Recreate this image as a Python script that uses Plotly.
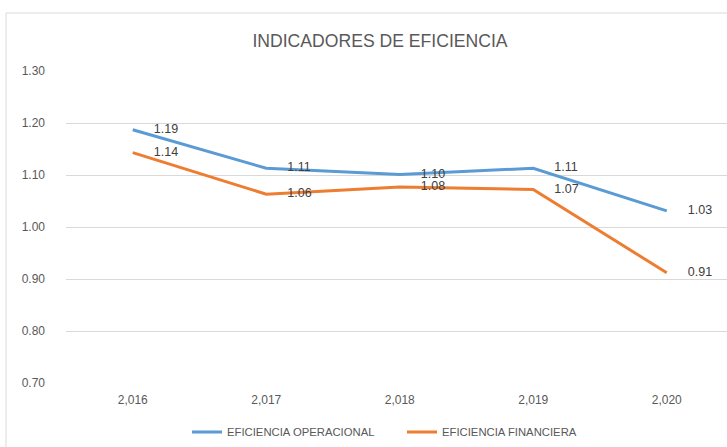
import plotly.graph_objects as go

# Efficiency indicators by year
years = [2016, 2017, 2018, 2019, 2020]
year_labels = ["2,016", "2,017", "2,018", "2,019", "2,020"]
eficiencia_operacional = [1.187, 1.113, 1.101, 1.113, 1.031]
eficiencia_financiera = [1.143, 1.063, 1.077, 1.072, 0.912]
y_ticks = [0.70, 0.80, 0.90, 1.00, 1.10, 1.20, 1.30]

W, H = 727, 447
ML, MR, MT, MB = 66, 0, 71, 64
PW, PH = W - ML - MR, H - MT - MB
STEP = 133.5  # px between categories

FONT = "Liberation Sans, Arial, sans-serif"
GRID = "#d9d9d9"
TEXT = "#595959"


def add_series(values, name, color):
    fig.add_trace(go.Scatter(
        x=years, y=values, name=name,
        mode="lines+markers+text",
        line=dict(color=color, width=3),
        marker=dict(size=32, color="rgba(0,0,0,0)"),
        texttemplate="%{y:.2f}", textposition="middle right",
        textfont=dict(family=FONT, size=12.5, color="#404040"),
        hoverinfo="x+y",
    ))


fig = go.Figure()
add_series(eficiencia_operacional, "EFICIENCIA OPERACIONAL", "#5B9BD5")
add_series(eficiencia_financiera, "EFICIENCIA FINANCIERA", "#ED7D31")

# chart frame
fig.add_shape(type="rect", xref="paper", yref="paper",
              x0=(6 - ML) / PW, x1=1.05, y0=-0.4, y1=1 + (MT - 13) / PH,
              line=dict(color=GRID, width=1), layer="below")

fig.update_layout(
    width=W, height=H,
    margin=dict(l=ML, r=MR, t=MT, b=MB),
    paper_bgcolor="white", plot_bgcolor="white",
    title=dict(text="INDICADORES DE EFICIENCIA", x=380 / W, xanchor="center",
               y=1 - 41 / H, yanchor="middle",
               font=dict(family=FONT, size=17.6, color=TEXT)),
    xaxis=dict(range=[years[0] - 0.5, years[0] - 0.5 + PW / STEP],
               tickvals=years, ticktext=year_labels, showgrid=False,
               zeroline=False, showline=False, ticks="",
               tickfont=dict(family=FONT, size=12, color=TEXT),
               ticklabelstandoff=8),
    yaxis=dict(range=[0.70, 1.30], tickvals=y_ticks, tickformat=".2f",
               showgrid=True, gridcolor=GRID, gridwidth=1, zeroline=False,
               showline=False, ticks="",
               tickfont=dict(family=FONT, size=12, color=TEXT),
               ticklabelstandoff=20),
    legend=dict(orientation="h", x=(187 - ML) / PW, xanchor="left",
                y=-(432 - 383) / PH, yanchor="middle",
                font=dict(family=FONT, size=11.3, color=TEXT),
                entrywidth=170, bgcolor="rgba(0,0,0,0)"),
    showlegend=True,
)

fig.write_html("out.html")
